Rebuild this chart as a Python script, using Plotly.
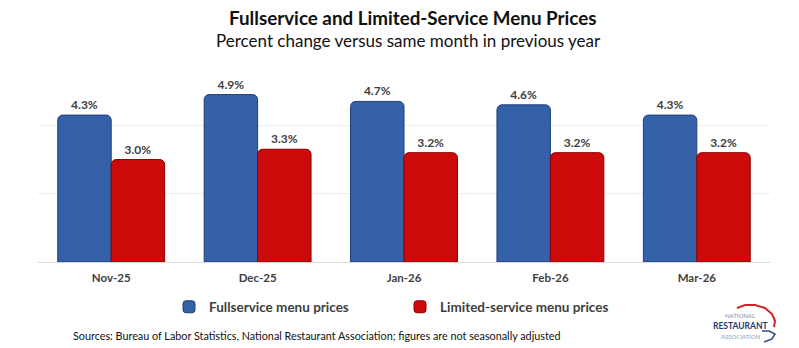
import plotly.graph_objects as go

months = ["Nov-25", "Dec-25", "Jan-26", "Feb-26", "Mar-26"]
fullservice = [4.3, 4.9, 4.7, 4.6, 4.3]
limited = [3.0, 3.3, 3.2, 3.2, 3.2]
y_ticks = [0, 2, 4, 6]

W, H = 799, 348
L, R, T, B = 38, 29, 57, 86
PW, PH = W - L - R, H - T - B


def px(x):
    return (x - L) / PW


def py(y):
    return (H - B - y) / PH


FONT = "Lato"
GRAY = "#404040"

fig = go.Figure()
fig.add_trace(go.Bar(
    x=months, y=fullservice, name="Fullservice menu prices",
    marker=dict(color="#3561A8", line=dict(color="#1E3F78", width=1)),
    texttemplate="%{y:.1f}%", textposition="outside",
    textfont=dict(family=FONT, size=12, color=GRAY, weight="bold"),
    cliponaxis=False,
))
fig.add_trace(go.Bar(
    x=months, y=limited, name="Limited-service menu prices",
    marker=dict(color="#CC0A0A", line=dict(color="#8E0000", width=1)),
    texttemplate="%{y:.1f}%", textposition="outside",
    textfont=dict(family=FONT, size=12, color=GRAY, weight="bold"),
    cliponaxis=False,
))

annotations = [
    dict(text="<b>Fullservice and Limited-Service Menu Prices</b>", x=px(413), y=py(17),
         font=dict(family=FONT, size=18.8, color="#111111")),
    dict(text="Percent change versus same month in previous year", x=px(408), y=py(41),
         font=dict(family=FONT, size=17, color="#111111")),
    dict(text="Sources: Bureau of Labor Statistics, National Restaurant Association; figures are not seasonally adjusted",
         x=px(72), y=py(335), xanchor="left",
         font=dict(family=FONT, size=10.8, color="#111111")),
    dict(text="NATIONAL", x=px(740), y=py(315.5), font=dict(family=FONT, size=6, color="#7A8BB3")),
    dict(text="<b>RESTAURANT</b>", x=px(740), y=py(326), font=dict(family=FONT, size=8.5, color="#1F3A70")),
    dict(text="ASSOCIATION", x=px(741), y=py(336), font=dict(family=FONT, size=6, color="#8C9CC2")),
]
for a in annotations:
    a.setdefault("xanchor", "center")
    a.update(xref="paper", yref="paper", yanchor="middle", showarrow=False, borderpad=0)


def path(points):
    return "M " + " L ".join(f"{px(x):.5f},{py(y):.5f}" for x, y in points)


red_arc = [(737, 308), (745, 305), (755, 305), (765, 308), (772, 314), (775, 321), (774, 327)]
blue_arc = [(762, 331), (769, 331), (775, 334), (772, 339), (764, 342)]
shapes = [
    dict(type="path", xref="paper", yref="paper", path=path(red_arc),
         line=dict(color="#D2232A", width=2)),
    dict(type="path", xref="paper", yref="paper", path=path(blue_arc),
         line=dict(color="#2B4C8C", width=1.5)),
]

fig.update_layout(
    width=W, height=H,
    margin=dict(l=L, r=R, t=T, b=B),
    paper_bgcolor="white", plot_bgcolor="white",
    barmode="group", bargap=0.27, bargroupgap=0,
    barcornerradius=5,
    font=dict(family=FONT, color=GRAY),
    showlegend=True,
    legend=dict(orientation="h", x=px(169), y=py(307), xanchor="left", yanchor="middle",
                font=dict(family=FONT, size=13.5, color=GRAY, weight="bold"),
                entrywidth=186, itemwidth=30, tracegroupgap=0),
    xaxis=dict(showline=False, ticks="", ticklabelstandoff=7,
               tickfont=dict(family=FONT, size=11.5, color=GRAY, weight="bold"),
               showgrid=False),
    yaxis=dict(range=[0, 6], tickvals=y_ticks, showticklabels=False, showgrid=True,
               gridcolor="#EDEDED", gridwidth=1, zeroline=True, zerolinecolor="#D9D9D9",
               zerolinewidth=1, fixedrange=True),
    annotations=annotations,
    shapes=shapes,
)

fig.write_html("out.html")
